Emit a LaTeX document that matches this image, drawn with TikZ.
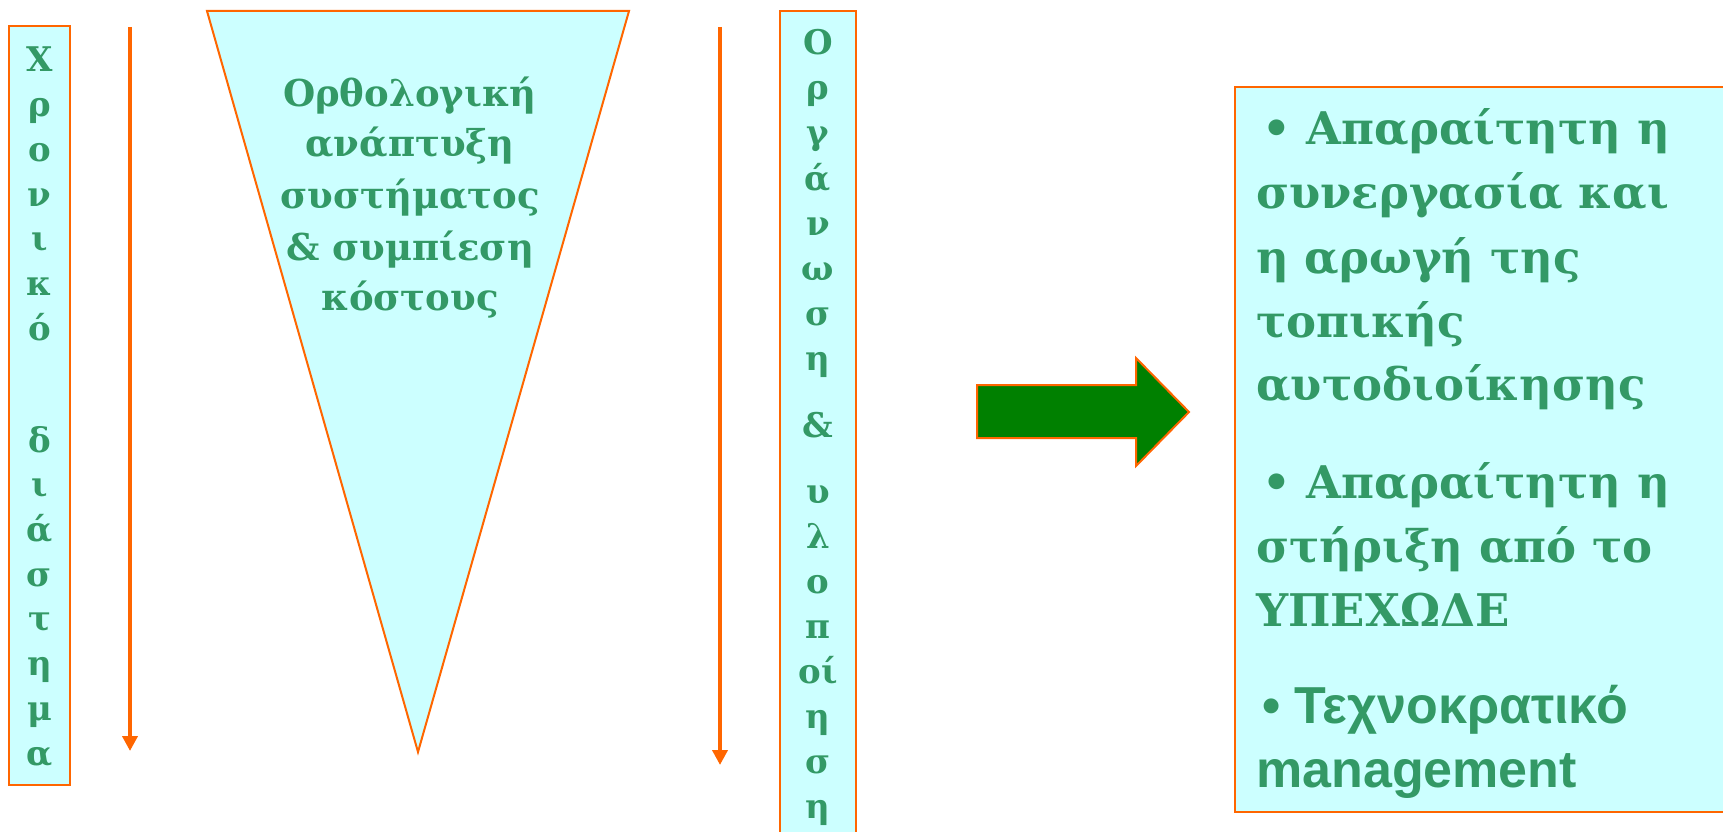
\documentclass[tikz,border=0pt]{standalone}
\usepackage{fontspec}
\setmainfont{DejaVu Serif}
\newfontfamily\sansb{Liberation Sans}
\usetikzlibrary{arrows.meta}
\definecolor{txtgreen}{RGB}{51,153,102}
\definecolor{boxfill}{RGB}{204,255,255}
\definecolor{edgeorange}{RGB}{255,102,0}
\definecolor{arrowgreen}{RGB}{0,128,0}
\tikzset{
  panel/.style={draw=edgeorange, fill=boxfill, line width=2pt},
  letter/.style={anchor=base, text=txtgreen, inner sep=0pt, font=\bfseries\fontsize{34}{34}\selectfont},
  tline/.style={anchor=base, text=txtgreen, inner sep=0pt, font=\bfseries\fontsize{37}{37}\selectfont},
  item/.style={anchor=base west, text=txtgreen, inner sep=0pt, font=\bfseries\fontsize{45}{45}\selectfont},
  sitem/.style={item, font=\sansb\bfseries\fontsize{52}{52}\selectfont},
  flow/.style={draw=edgeorange, line width=4pt, -{Triangle[width=15pt,length=15pt]}},
  bigarrow/.style={draw=edgeorange, fill=arrowgreen, line width=2pt, line join=miter}
}
\begin{document}
\begin{tikzpicture}[x=1pt,y=-1pt]
\useasboundingbox (0,0) rectangle (1723,832);
\clip (0,0) rectangle (1723,832);

% left column box
\node[panel, minimum width=61pt, minimum height=759pt, inner sep=0pt] (lbox) at (39.5,405.5) {};
\foreach \ch/\yy [count=\i] in {Χ/72, ρ/116.7, ο/161.4, ν/206.1, ι/250.8, κ/295.5, ό/340,
  δ/452, ι/496.7, ά/541.4, σ/586.1, τ/630.8, η/675.5, μ/720.2, α/765}
  \node[letter] (lc\i) at (39.5,\yy) {\ch};

% left flow arrow
\coordinate (a1s) at (130,27);
\coordinate (a1e) at (130,751);
\draw[flow] (a1s) -- (a1e);

% triangle
\coordinate (t1) at (207,11);
\coordinate (t2) at (629,11);
\coordinate (t3) at (418,752);
\draw[panel, line join=miter] (t1) -- (t2) -- (t3) -- cycle;
\node[tline] (tx1) at (410,107) {Ορθολογική};
\node[tline] (tx2) at (410,157) {ανάπτυξη};
\node[tline] (tx3) at (410,208) {συστήματος};
\node[tline] (tx4) at (410,260) {\& συμπίεση};
\node[tline] (tx5) at (410,310) {κόστους};

% middle flow arrow
\coordinate (a2s) at (720,27);
\coordinate (a2e) at (720,765);
\draw[flow] (a2s) -- (a2e);

% right column box
\node[panel, minimum width=76pt, minimum height=840pt, inner sep=0pt] (rbox) at (818,431) {};
\foreach \ch/\yy [count=\i] in {Ο/55, ρ/100, γ/145, ά/190, ν/235, ω/280, σ/325, η/370,
  \&/437, υ/503, λ/548, ο/593, π/638, οί/683, η/728, σ/773, η/818}
  \node[letter] (rc\i) at (818,\yy) {\ch};

% big green arrow
\draw[bigarrow] (977,385) -- (1136,385) -- (1136,358) -- (1189,412) -- (1136,466) -- (1136,438) -- (977,438) -- cycle;

% right text box
\node[panel, minimum width=496pt, minimum height=725pt, inner sep=0pt, anchor=north west] (tbox) at (1234,86) {};
\node[item] (b1a) at (1262,145) {• Απαραίτητη η};
\node[item] (b1b) at (1256,208) {συνεργασία και};
\node[item] (b1c) at (1256,273) {η αρωγή της};
\node[item] (b1d) at (1256,337) {τοπικής};
\node[item] (b1e) at (1256,400) {αυτοδιοίκησης};
\node[item] (b2a) at (1262,498) {• Απαραίτητη η};
\node[item] (b2b) at (1256,562) {στήριξη από το};
\node[item] (b2c) at (1256,626) {ΥΠΕΧΩΔΕ};
\node[sitem] (b3a) at (1262,723) {• Τεχνοκρατικό};
\node[sitem] (b3b) at (1256,787) {management};
\end{tikzpicture}
\end{document}
